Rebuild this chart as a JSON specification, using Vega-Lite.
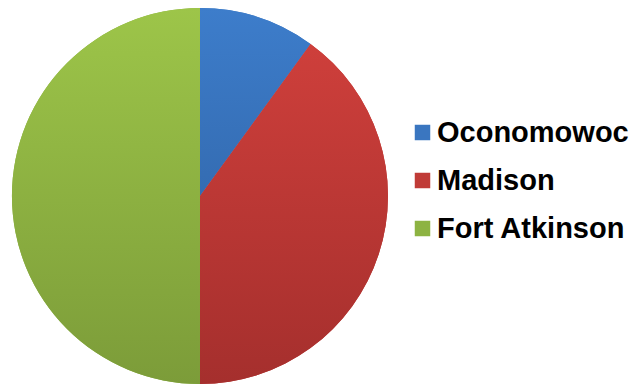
{
  "$schema": "https://vega.github.io/schema/vega-lite/v6.json",
  "width": 376,
  "height": 376,
  "padding": {"top": 8, "left": 12, "right": 0, "bottom": 0},
  "autosize": {"type": "pad"},
  "background": "white",
  "config": {"view": {"stroke": null}},
  "data": {
    "values": [
      {"city": "Oconomowoc", "value": 10, "rank": 1},
      {"city": "Madison", "value": 40, "rank": 2},
      {"city": "Fort Atkinson", "value": 50, "rank": 3}
    ]
  },
  "encoding": {
    "theta": {"field": "value", "type": "quantitative", "stack": true},
    "order": {"field": "rank", "type": "quantitative"}
  },
  "layer": [
    {
      "mark": {"type": "arc", "stroke": null},
      "encoding": {
        "color": {
          "field": "city",
          "type": "nominal",
          "scale": {
            "domain": ["Oconomowoc", "Madison", "Fort Atkinson"],
            "range": ["#3A76C0", "#C03B37", "#8DB342"]
          },
          "legend": {
            "title": null,
            "orient": "none",
            "legendX": 396,
            "legendY": 110,
            "padding": 0,
            "symbolType": "square",
            "symbolSize": 240,
            "symbolStrokeWidth": 0,
            "labelFont": "Liberation Sans",
            "labelFontWeight": "bold",
            "labelFontSize": 29,
            "labelColor": "black",
            "labelOffset": 0,
            "labelLimit": 400,
            "rowPadding": 18
          }
        }
      }
    },
    {
      "mark": {"type": "arc", "stroke": null},
      "encoding": {
        "fill": {
          "condition": [
            {"test": "datum.city === 'Oconomowoc'", "value": {"gradient": "linear", "x1": 0, "y1": 0, "x2": 0, "y2": 1, "stops": [{"offset": 0, "color": "#3D7DCB"}, {"offset": 1, "color": "#346CB2"}]}},
            {"test": "datum.city === 'Madison'", "value": {"gradient": "linear", "x1": 0, "y1": 0, "x2": 0, "y2": 1, "stops": [{"offset": 0, "color": "#CE3F3B"}, {"offset": 1, "color": "#A52F2D"}]}}
          ],
          "value": {"gradient": "linear", "x1": 0, "y1": 0, "x2": 0, "y2": 1, "stops": [{"offset": 0, "color": "#9DC549"}, {"offset": 1, "color": "#7C9C39"}]}
        }
      }
    }
  ]
}
